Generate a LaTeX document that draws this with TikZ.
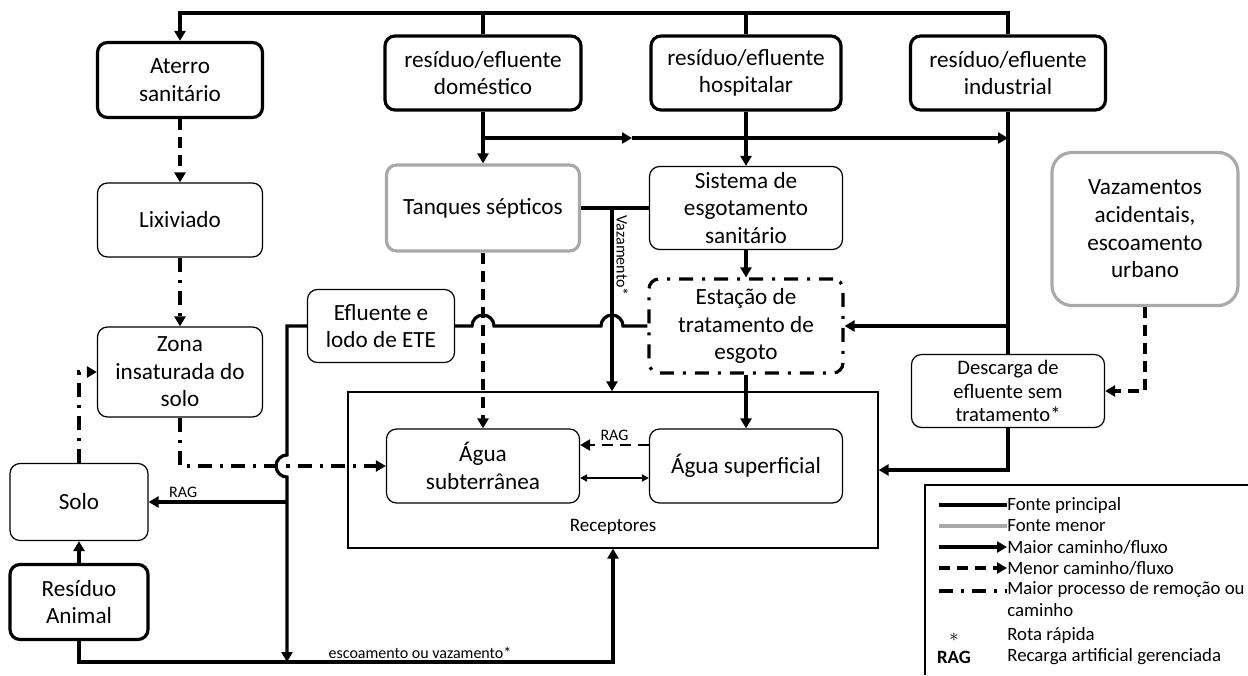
\documentclass[tikz,border=0pt]{standalone}
\usepackage{fontspec}
\setmainfont{Carlito}
\usepackage{tikz}
\usetikzlibrary{positioning, arrows.meta}
\definecolor{minorgray}{HTML}{A9A9A9}
\newcommand{\boxfont}{\fontsize{11.6}{13.8}\selectfont}
\newcommand{\lblfont}{\fontsize{8}{9.6}\selectfont}
\newcommand{\keyfont}{\fontsize{9.4}{10.8}\selectfont}

\begin{document}
\begin{tikzpicture}[
    x=0.5pt, y=-0.5pt,
    src/.style={draw, line width=1.6pt, rounded corners=5pt, align=center, inner sep=0pt, font=\boxfont},
    box/.style={draw, line width=0.6pt, rounded corners=5pt, align=center, inner sep=0pt, font=\boxfont},
    minor/.style={box, draw=minorgray, line width=1.6pt},
    plant/.style={box, line width=1.6pt, dash pattern=on 7pt off 4.5pt on 1.5pt off 4.5pt},
    link/.style={line width=1.6pt},
    flow/.style={link, -{Triangle[length=5pt, width=5.5pt]}},
    minorflow/.style={flow, dash pattern=on 5.5pt off 3.5pt},
    removal/.style={flow, dash pattern=on 7pt off 4pt on 1.6pt off 4pt},
    lbl/.style={font=\lblfont, inner sep=1.5pt},
    key/.style={anchor=west, font=\keyfont, inner sep=0pt},
]
\useasboundingbox (0,0) rectangle (1248,675);

% Sources
\node[src, minimum width=82.5pt, minimum height=37.5pt] (aterro) at (180,80) {Aterro\\sanitário};
\node[src, minimum width=98pt, minimum height=37pt] (dom) at (483,73) {resíduo/efluente\\doméstico};
\node[src, minimum width=95pt, minimum height=37pt] (hosp) at (746,73) {resíduo/efluente\\hospitalar};
\node[src, minimum width=97.5pt, minimum height=37pt] (ind) at (1008,73) {resíduo/efluente\\industrial};
\node[src, minimum width=69pt, minimum height=37.5pt] (animal) at (79,602) {Resíduo\\Animal};

% Pathways
\node[box, minimum width=82.5pt, minimum height=37pt] (lixiviado) at (180,220) {Lixiviado};
\node[box, minimum width=82.5pt, minimum height=45pt] (zona) at (180,372) {Zona\\insaturada do\\solo};
\node[box, minimum width=69pt, minimum height=38.5pt] (solo) at (79,502) {Solo};
\node[minor, minimum width=96.5pt, minimum height=43pt] (tanques) at (483,208) {Tanques sépticos};
\node[box, minimum width=96.5pt, minimum height=41.5pt] (sistema) at (746,208) {Sistema de\\esgotamento\\sanitário};
\node[plant, minimum width=97pt, minimum height=47pt] (estacao) at (746,326) {Estação de\\tratamento de\\esgoto};
\node[box, minimum width=73.5pt, minimum height=36.5pt] (efluente) at (381,326) {Efluente e\\lodo de ETE};
\node[box, font=\fontsize{10.3}{11.7}\selectfont, minimum width=96.5pt, minimum height=36.5pt] (descarga) at (1008,391) {Descarga de\\efluente sem\\tratamento*};
\node[minor, rounded corners=10pt, minimum width=93pt, minimum height=76.5pt] (vazamentos) at (1145,229) {Vazamentos\\acidentais,\\escoamento\\urbano};

% Receptors
\node[draw, line width=0.6pt, minimum width=265pt, minimum height=78pt] (receptores) at (613,470) {};
\node[font=\fontsize{9.5}{11}\selectfont] (receptlbl) at (613,527) {Receptores};
\node[box, minimum width=96.5pt, minimum height=37pt] (agsub) at (483,466) {Água\\subterrânea};
\node[box, minimum width=96.5pt, minimum height=37pt] (agsup) at (746,466) {Água superficial};

\coordinate (bus) at (600,13);
\coordinate (split) at (483,138);
\coordinate (splitmid) at (632,138);
\coordinate (leak) at (612,208);
\coordinate (drop) at (287,662);

% Top bus
\draw[flow] (ind.north) |- (bus) -| (aterro.north);
\draw[link] (dom.north) -- (dom.north |- bus);
\draw[link] (hosp.north) -- (hosp.north |- bus);

% Domestic, hospital, industrial
\draw[flow] (dom) -- (tanques);
\draw[flow] (split) -- (splitmid);
\draw[flow] (splitmid) -- (split -| ind.south);
\draw[flow] (hosp) -- (sistema);
\draw[link] (ind) -- (descarga);
\draw[flow] (descarga.north |- estacao.east) -- (estacao.east);
\draw[link] (tanques) -- (sistema);
\draw[flow] (leak) -- (leak |- receptores.north)
    node[lbl, pos=0.26, rotate=-90, anchor=south] {Vazamento*};
\draw[flow] (sistema) -- (estacao);
\draw[flow] (estacao) -- (agsup);
\draw[minorflow] (tanques) -- (agsub);

% ETE effluent with hops
\draw[link] (estacao.west) -- ([xshift=5.5pt]leak |- estacao.west)
    arc[start angle=0, end angle=180, radius=5.5pt]
    -- ([xshift=5.5pt]tanques.south |- estacao.west)
    arc[start angle=0, end angle=180, radius=5.5pt] -- (efluente.east);
\draw[flow] (efluente.west) -| ([yshift=5.5pt]drop |- agsub.west)
    arc[start angle=90, end angle=270, radius=5.5pt] -- (drop);
\draw[flow] (drop |- solo.east) -- (solo.east) node[lbl, above, pos=0.75] {RAG};

% Landfill and soil
\draw[minorflow] (aterro) -- (lixiviado);
\draw[removal] (lixiviado) -- (zona);
\draw[removal] (zona.south) |- (agsub.west);
\draw[removal] (solo.north) |- (zona.west);
\draw[flow] (animal) -- (solo);
\draw[flow] (animal.south) |- (drop) -| (receptores.south);
\node[lbl, above] (runofflbl) at (420,662) {escoamento ou vazamento*};

% Untreated discharge
\draw[flow] (descarga.south) |- (receptores.east);
\draw[minorflow] (vazamentos.south) |- (descarga.east);

% Between receptors
\draw[minorflow, line width=1.1pt] ([yshift=10.5pt]agsup.west) -- ([yshift=10.5pt]agsub.east)
    node[lbl, midway, above] {RAG};
\draw[line width=1pt, {Triangle[length=3.5pt, width=3.5pt]}-{Triangle[length=3.5pt, width=3.5pt]}]
    ([yshift=-6pt]agsub.east) -- ([yshift=-6pt]agsup.west);

% Legend
\draw[line width=0.6pt] (1248,485) -- (925,485) -- (925,675);
\node[key] (k1) at (1007,505) {Fonte principal};
\node[key] (k2) at (1007,526) {Fonte menor};
\node[key] (k3) at (1007,547) {Maior caminho/fluxo};
\node[key] (k4) at (1007,568) {Menor caminho/fluxo};
\node[key, anchor=north west, align=left] (k5) at (1007,581) {Maior processo de remoção ou\\caminho};
\node[key] (k6) at (1007,635) {Rota rápida};
\node[key] (k7) at (1007,657) {Recarga artificial gerenciada};
\node[font=\keyfont] (k6sym) at (954,637) {$\ast$};
\node[font=\keyfont\bfseries] (k7sym) at (954,657) {RAG};
\draw[link] ([xshift=-34pt]k1.west) -- (k1.west);
\draw[link, minorgray] ([xshift=-34pt]k2.west) -- (k2.west);
\draw[flow] ([xshift=-34pt]k3.west) -- (k3.west);
\draw[minorflow] ([xshift=-34pt]k4.west) -- (k4.west);
\draw[link, dash pattern=on 7pt off 4pt on 1.6pt off 4pt]
    ([xshift=-34pt, yshift=-5pt]k5.north west) -- ([yshift=-5pt]k5.north west);
\end{tikzpicture}
\end{document}
